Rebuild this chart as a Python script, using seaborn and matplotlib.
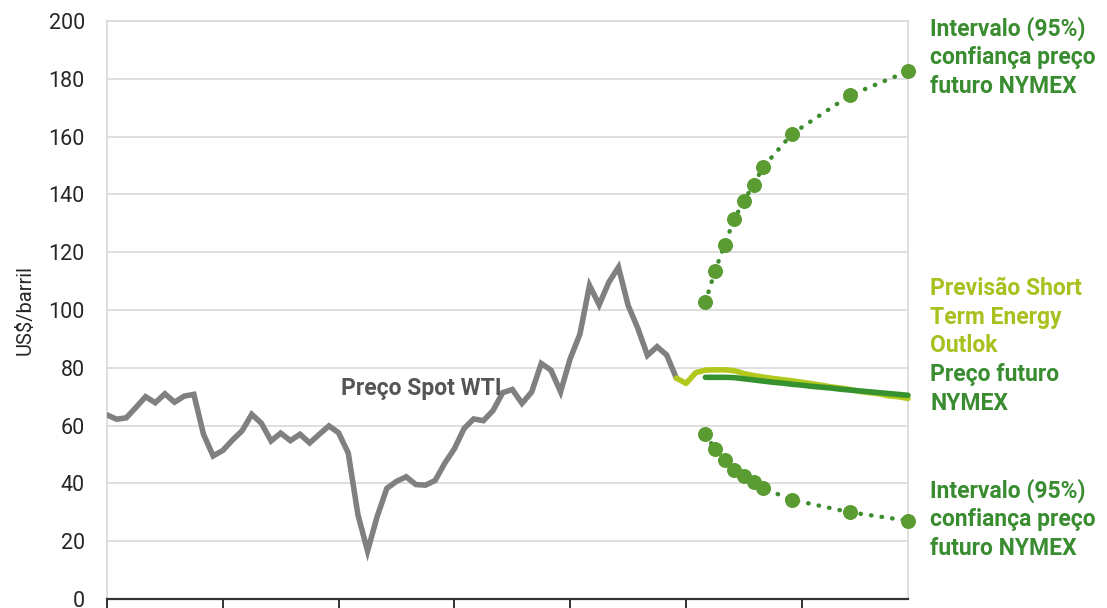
import numpy as np
import pandas as pd
import matplotlib
matplotlib.use("Agg")
import matplotlib.pyplot as plt
import seaborn as sns

# ---------------- data (month index: 0 = Jan 2018) ----------------
spot_months = list(range(0, 60))
spot_wti = [63.7, 62.2, 62.7, 66.3, 70.0, 67.9, 71.0, 68.1, 70.2, 70.8, 57.0, 49.5,
            51.4, 55.0, 58.2, 63.9, 60.8, 54.7, 57.4, 54.8, 57.0, 54.0, 57.0, 59.9,
            57.5, 50.5, 29.2, 16.6, 28.6, 38.3, 40.7, 42.3, 39.6, 39.4, 41.0, 47.0,
            52.0, 59.0, 62.3, 61.7, 65.2, 71.4, 72.5, 67.7, 71.6, 81.5, 79.2, 71.7,
            83.2, 91.6, 108.5, 101.8, 109.6, 114.8, 101.6, 93.7, 84.3, 87.3, 84.4, 76.4]

steo_months = list(range(59, 84))
steo_forecast = [76.4, 74.6, 78.3, 79.2, 79.3, 79.3, 79.0, 78.0, 77.3, 76.8, 76.3,
                 75.9, 75.5, 75.0, 74.5, 74.0, 73.4, 73.0, 72.5, 71.8, 71.4, 71.0,
                 70.3, 70.0, 69.4]

futures_months = list(range(62, 84))
nymex_futures = [76.7, 76.7, 76.7, 76.6, 76.2, 75.8, 75.4, 75.0, 74.7, 74.3, 74.0,
                 73.6, 73.3, 73.0, 72.6, 72.3, 72.0, 71.7, 71.4, 71.1, 70.8, 70.5]

ci_months = [62, 63, 64, 65, 66, 67, 68, 71, 77, 83]
ci_upper = [102.7, 113.5, 122.6, 131.5, 137.8, 143.4, 149.5, 161.0, 174.3, 182.6]
ci_lower = [57.0, 51.9, 48.0, 44.5, 42.4, 40.4, 38.3, 34.3, 30.0, 27.1]

year_ticks = [0, 12, 24, 36, 48, 60, 72]
y_ticks = [0, 20, 40, 60, 80, 100, 120, 140, 160, 180, 200]

# ---------------- style ----------------
sns.set_theme(style="white")
plt.rcParams["font.family"] = ["Roboto", "DejaVu Sans"]

GRAY = "#808080"
STEO = "#b2c81c"
FUT = "#36922f"
DOT = "#5a9b32"
TXT_GREEN = "#3a8c30"
TXT_YG = "#a9c01e"

fig = plt.figure(figsize=(11.07, 6.08), dpi=100)
ax = fig.add_axes([107 / 1107, 1 - 599 / 608, (908 - 107) / 1107, (599 - 21) / 608])

df_spot = pd.DataFrame({"m": spot_months, "v": spot_wti})
df_steo = pd.DataFrame({"m": steo_months, "v": steo_forecast})
df_fut = pd.DataFrame({"m": futures_months, "v": nymex_futures})
df_up = pd.DataFrame({"m": ci_months, "v": ci_upper})
df_lo = pd.DataFrame({"m": ci_months, "v": ci_lower})

sns.lineplot(data=df_spot, x="m", y="v", ax=ax, color=GRAY, linewidth=4.0,
             solid_joinstyle="miter", zorder=3)
sns.lineplot(data=df_steo, x="m", y="v", ax=ax, color=STEO, linewidth=4.0,
             zorder=3, clip_on=False)
sns.lineplot(data=df_fut, x="m", y="v", ax=ax, color=FUT, linewidth=4.0,
             zorder=4, clip_on=False)
for d in (df_up, df_lo):
    sns.lineplot(data=d, x="m", y="v", ax=ax, color="#3e8e30", linewidth=3.2,
                 linestyle=(0, (0.1, 2.3)), dash_capstyle="round",
                 marker="o", markersize=10, markerfacecolor=DOT,
                 markeredgecolor=DOT, zorder=5, clip_on=False)

ax.set_xlim(0, 83)
ax.set_ylim(0, 200)
ax.set_xticks(year_ticks)
ax.set_xticklabels([])
ax.set_yticks(y_ticks)
ax.set_yticklabels([str(t) for t in y_ticks], fontsize=15.5, color="#262626")
ax.yaxis.grid(True, color="#d9d9d9", linewidth=1.2)
ax.set_axisbelow(True)
ax.tick_params(axis="y", length=0, pad=16)
ax.tick_params(axis="x", length=7, width=1.4, color="#333333", direction="out",
               bottom=True)
for s in ("left", "right", "top"):
    ax.spines[s].set_color("#d9d9d9")
    ax.spines[s].set_linewidth(1.2)
ax.spines["bottom"].set_color("#333333")
ax.spines["bottom"].set_linewidth(1.6)
ax.set_xlabel("")
ax.set_ylabel("US$/barril", fontsize=14.5, color="#262626", labelpad=10)

ax.text(32.6, 73, "Preço Spot WTI", fontsize=16.5, fontweight="bold",
        color="#555555", ha="center", va="center")

fx = 930 / 1107
lbl = dict(fontsize=16.5, fontweight="bold", ha="left", va="center", linespacing=1.3)
fig.text(fx, 1 - 57 / 608, "Intervalo (95%)\nconfiança preço\nfuturo NYMEX",
         color=TXT_GREEN, **lbl)
fig.text(fx, 1 - 317 / 608, "Previsão Short\nTerm Energy\nOutlok",
         color=TXT_YG, **lbl)
fig.text(fx, 1 - 389 / 608, "Preço futuro\nNYMEX",
         color=TXT_GREEN, **lbl)
fig.text(fx, 1 - 519 / 608, "Intervalo (95%)\nconfiança preço\nfuturo NYMEX",
         color=TXT_GREEN, **lbl)

fig.savefig("out.png", dpi=100)
